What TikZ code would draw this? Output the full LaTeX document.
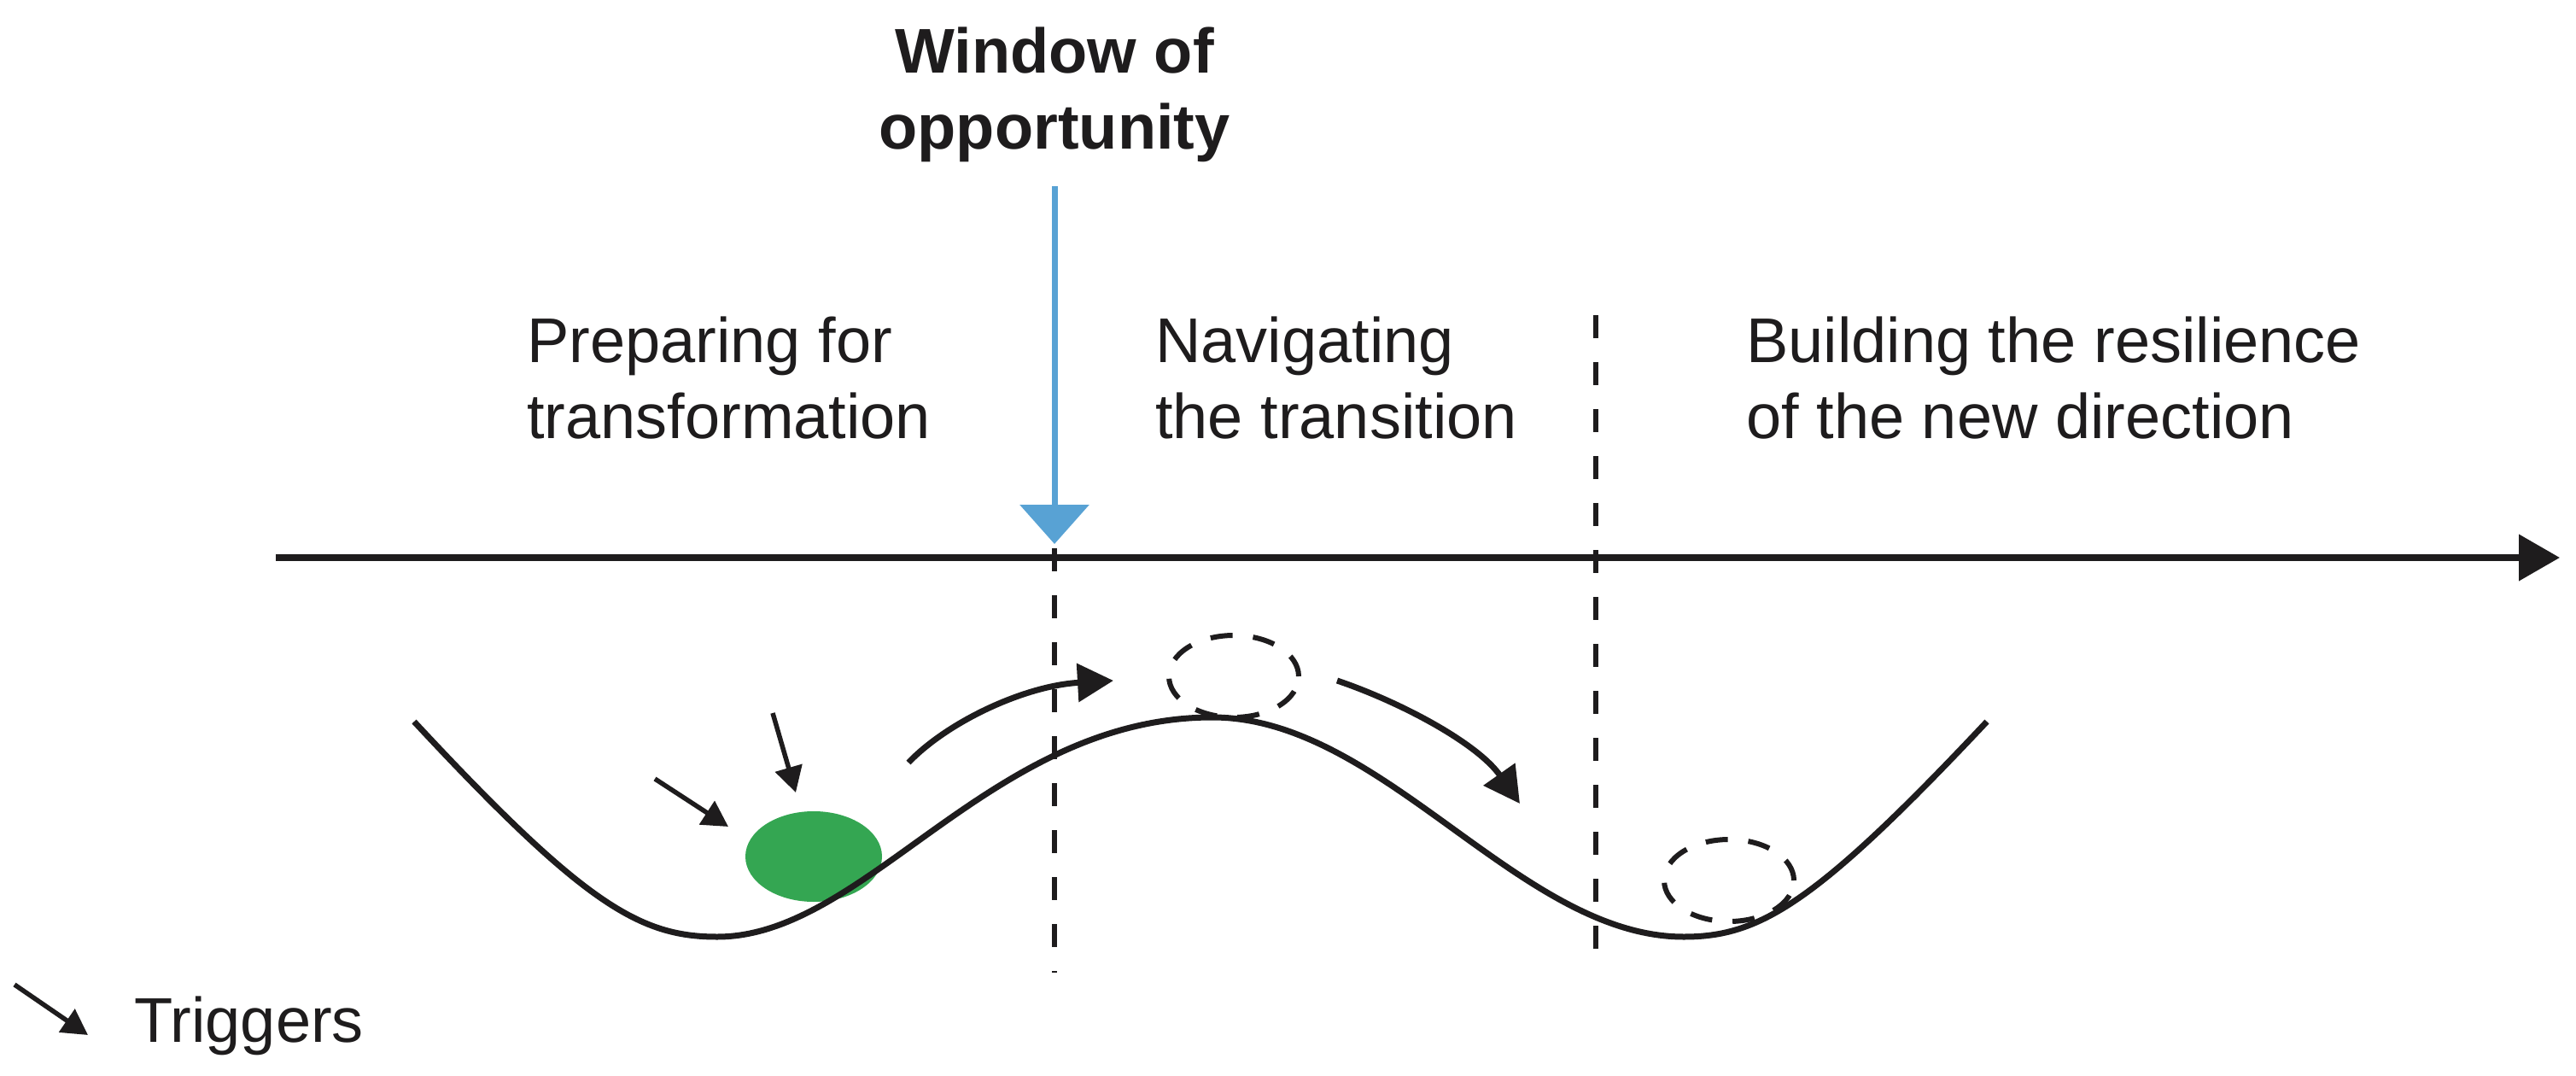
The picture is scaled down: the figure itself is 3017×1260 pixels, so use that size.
\documentclass[tikz,border=0pt]{standalone}
\usepackage{fontspec}
\setmainfont{Liberation Sans}
\usetikzlibrary{arrows.meta,shapes.geometric}
\definecolor{ballgreen}{RGB}{52,166,82}
\definecolor{winblue}{RGB}{88,162,212}
\definecolor{ink}{RGB}{30,28,29}
\begin{document}
\begin{tikzpicture}[x=1pt,y=-1pt,
  lbl/.style={font=\fontsize{74}{89}\selectfont, text=ink, align=left, inner sep=0pt, anchor=base west},
  wlbl/.style={font=\fontsize{74}{89}\selectfont\bfseries, text=ink, align=center, inner sep=0pt, anchor=base},
  axisline/.style={draw=ink, line width=7.5pt, -{Triangle[length=48pt,width=53pt]}},
  bluearrow/.style={draw=winblue, line width=7pt, -{Triangle[length=46pt,width=80pt]}},
  dashline/.style={draw=ink, line width=6pt, dash pattern=on 27pt off 28pt},
  valley/.style={draw=ink, line width=7pt},
  trig/.style={draw=ink, line width=5.5pt, -{Triangle[length=30pt,width=32pt]}},
  bigarr/.style={draw=ink, line width=7pt, -{Triangle[length=42pt,width=44pt]}},
  ghost/.style={ellipse, draw=ink, line width=6pt, dash pattern=on 26pt off 24pt, minimum width=152pt, minimum height=96pt, inner sep=0pt},
  ball/.style={ellipse, fill=ballgreen, minimum width=160pt, minimum height=106pt, inner sep=0pt}
]
\useasboundingbox (0,0) rectangle (3017,1260);
\fill[white] (0,0) rectangle (3017,1260);

% labels
\node[wlbl] (win) at (1235,175) {Window of\\opportunity};
\node[lbl] (prep) at (617,513) {Preparing for\\transformation};
\node[lbl] (nav) at (1353,513) {Navigating\\the transition};
\node[lbl] (build) at (2045,513) {Building the resilience\\of the new direction};

% timeline
\coordinate (tl0) at (323,653);
\coordinate (tl1) at (2998,653);
\draw[axisline] (tl0) -- (tl1);

% window arrow
\coordinate (w0) at (1235,218);
\coordinate (w1) at (1235,637);
\draw[bluearrow] (w0) -- (w1);

% dashed separators
\coordinate (d1a) at (1235,642);
\coordinate (d1b) at (1235,1139);
\coordinate (d2a) at (1869,369);
\coordinate (d2b) at (1869,1139);
\draw[dashline] (d1a) -- (d1b);
\draw[dashline] (d2a) -- (d2b);

% ball
\node[ball] (ballA) at (953,1003) {};

% landscape
\draw[valley] (485,845) .. controls (685,1060) and (750,1097) .. (840,1097)
  .. controls (1015,1097) and (1160,840) .. (1420,840)
  .. controls (1620,840) and (1780,1097) .. (1972,1097)
  .. controls (2060,1097) and (2125,1060) .. (2327,845);

% ghost positions
\node[ghost] (ghostA) at (1445,792) {};
\node[ghost] (ghostB) at (2025,1031) {};

% triggers
\coordinate (t1s) at (767,912);
\coordinate (t1e) at (853,968);
\coordinate (t2s) at (905,835);
\coordinate (t2e) at (932,928);
\draw[trig] (t1s) -- (t1e);
\draw[trig] (t2s) -- (t2e);

% movement arrows
\coordinate (m1s) at (1064,893);
\coordinate (m1e) at (1304,797);
\coordinate (m2s) at (1566,797);
\coordinate (m2e) at (1780,941);
\draw[bigarr] (m1s) .. controls (1110,845) and (1200,803) .. (m1e);
\draw[bigarr] (m2s) .. controls (1640,822) and (1730,870) .. (m2e);

% legend
\coordinate (lgs) at (17,1153);
\coordinate (lge) at (103,1212);
\draw[trig] (lgs) -- (lge);
\node[lbl] (trigtxt) at (157,1220) {Triggers};
\end{tikzpicture}
\end{document}
